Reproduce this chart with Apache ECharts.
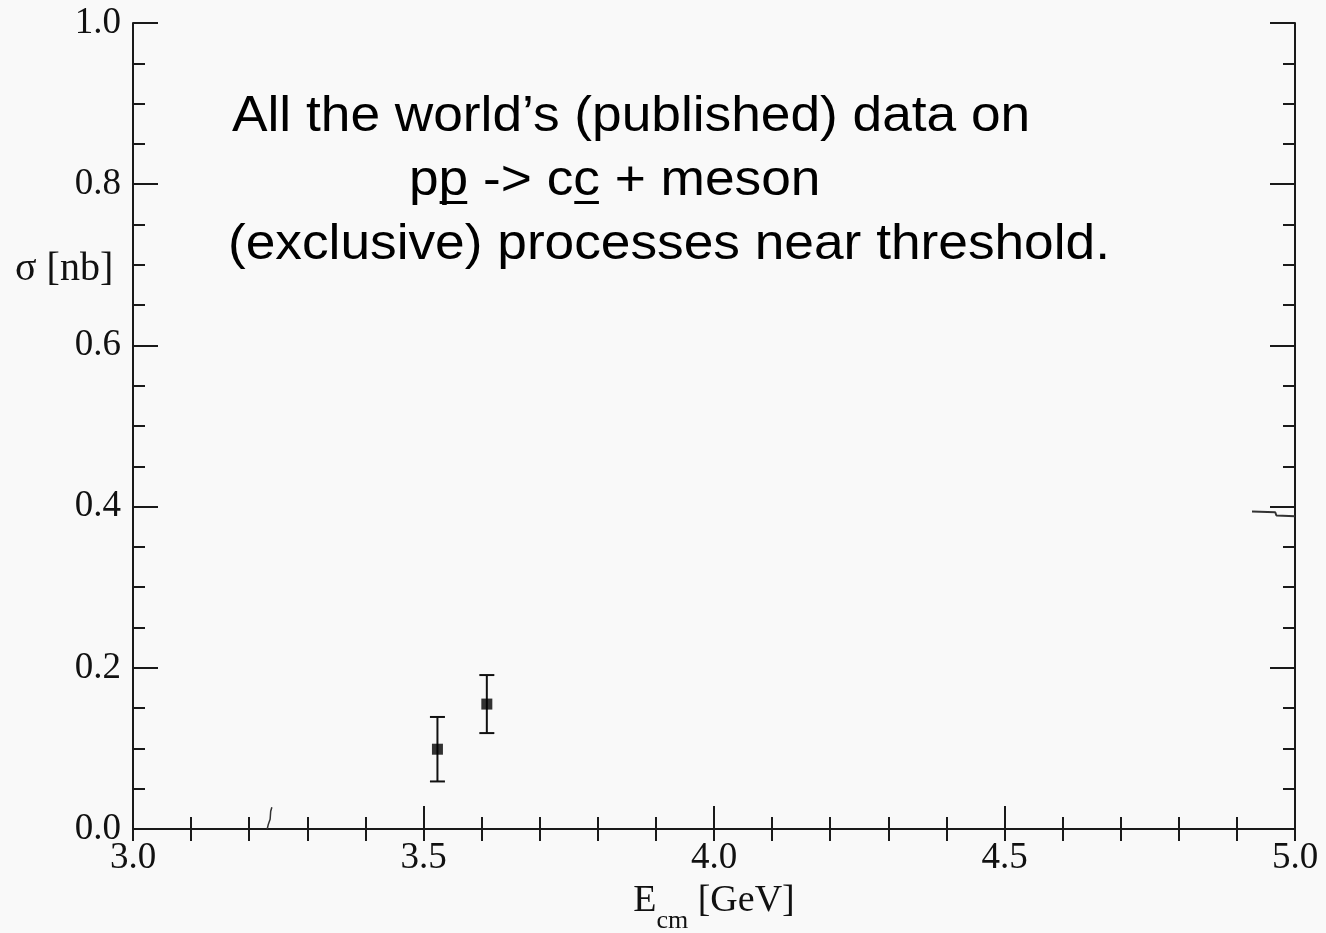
<!DOCTYPE html>
<html>
<head>
<meta charset="utf-8">
<script src="https://cdn.jsdelivr.net/npm/echarts@6/dist/echarts.min.js"></script>
<style>
  html, body { margin: 0; padding: 0; background: #f9f9f9; }
  #chart { width: 1326px; height: 933px; }
</style>
</head>
<body>
<div id="chart"></div>
<script>
// Measured cross sections (nb) versus centre-of-mass energy (GeV)
const energies = [3.524, 3.609];
const sigma = [0.099, 0.155];
const sigmaErr = [0.040, 0.036];

// Short leftover curve pieces visible on the frame
const strayRight = [[4.926, 0.394], [4.966, 0.393], [4.968, 0.389], [5.0, 0.388]];
const strayBottom = [[3.231, 0.0], [3.233, 0.006], [3.236, 0.012], [3.237, 0.022], [3.239, 0.027]];

const noteLines = [
  'All the world\u2019s (published) data on',
  'pp -> cc + meson',
  '(exclusive) processes near threshold.'
];

const AXIS_COLOR = '#1a1a1a';
const SERIF = '"Liberation Serif", "DejaVu Serif", serif';
const SANS = '"Liberation Sans", Arial, sans-serif';

const NOTE_SIZE = 50;
const NOTE_SCALE = 1.065;

// widths used to place the bar (underline) under the antiparticles
const measureCtx = document.createElement('canvas').getContext('2d');
measureCtx.font = NOTE_SIZE + 'px ' + SANS;
const wOf = s => measureCtx.measureText(s).width * NOTE_SCALE;

const chart = echarts.init(document.getElementById('chart'), null, { renderer: 'canvas' });

const tickFmt = v => v.toFixed(1);

const line2X = 409;
const barY = 201;

const option = {
  animation: false,
  backgroundColor: '#f9f9f9',
  grid: { left: 133, right: 31, top: 23, bottom: 104, containLabel: false, outerBoundsMode: 'none' },
  xAxis: [
    {
      type: 'value', min: 3, max: 5, interval: 0.5, position: 'bottom',
      axisLine: { show: true, lineStyle: { color: AXIS_COLOR, width: 2 } },
      axisTick: { show: true, inside: true, length: 23, lineStyle: { color: AXIS_COLOR, width: 2 } },
      minorTick: { show: true, splitNumber: 5, length: 12, lineStyle: { color: AXIS_COLOR, width: 2 } },
      splitLine: { show: false }, minorSplitLine: { show: false },
      axisLabel: { fontFamily: SERIF, fontSize: 37, color: '#111', margin: 11, formatter: tickFmt },
      name: '{e|E}{s|cm}{u| [GeV]}',
      nameLocation: 'middle',
      nameGap: 38,
      nameTextStyle: {
        rich: {
          e: { fontFamily: SERIF, fontSize: 38, color: '#111' },
          s: { fontFamily: SERIF, fontSize: 26, color: '#111', padding: [40, 0, 0, 0] },
          u: { fontFamily: SERIF, fontSize: 38, color: '#111' }
        }
      }
    },
    {
      type: 'value', min: 3, max: 5, interval: 0.1, position: 'top',
      axisLine: { show: true, lineStyle: { color: AXIS_COLOR, width: 2 } },
      axisTick: { show: true, inside: true, length: 12, lineStyle: { color: AXIS_COLOR, width: 2 } },
      axisLabel: { show: false },
      splitLine: { show: false }
    }
  ],
  yAxis: [
    {
      type: 'value', min: 0, max: 1, interval: 0.2, position: 'left',
      axisLine: { show: true, lineStyle: { color: AXIS_COLOR, width: 2 } },
      axisTick: { show: true, inside: true, length: 25, lineStyle: { color: AXIS_COLOR, width: 2 } },
      minorTick: { show: true, splitNumber: 4, length: 12, lineStyle: { color: AXIS_COLOR, width: 2 } },
      splitLine: { show: false }, minorSplitLine: { show: false },
      axisLabel: { fontFamily: SERIF, fontSize: 37, color: '#111', margin: 12, formatter: tickFmt }
    },
    {
      type: 'value', min: 0, max: 1, interval: 0.2, position: 'right',
      axisLine: { show: true, lineStyle: { color: AXIS_COLOR, width: 2 } },
      axisTick: { show: true, inside: true, length: 25, lineStyle: { color: AXIS_COLOR, width: 2 } },
      minorTick: { show: true, splitNumber: 4, length: 12, lineStyle: { color: AXIS_COLOR, width: 2 } },
      splitLine: { show: false }, minorSplitLine: { show: false },
      axisLabel: { show: false }
    }
  ],
  graphic: [
    {
      type: 'text', x: 15, y: 269, z: 10,
      style: { text: '\u03c3 [nb]', fontFamily: SERIF, fontSize: 40, fill: '#111', verticalAlign: 'middle' }
    },
    {
      type: 'text', x: 232, y: 117, scaleX: NOTE_SCALE, z: 10,
      style: { text: noteLines[0], fontFamily: SANS, fontSize: NOTE_SIZE, fill: '#000', verticalAlign: 'middle' }
    },
    {
      type: 'text', x: line2X, y: 181, scaleX: NOTE_SCALE, z: 10,
      style: { text: noteLines[1], fontFamily: SANS, fontSize: NOTE_SIZE, fill: '#000', verticalAlign: 'middle' }
    },
    {
      type: 'text', x: 228, y: 245, scaleX: NOTE_SCALE, z: 10,
      style: { text: noteLines[2], fontFamily: SANS, fontSize: NOTE_SIZE, fill: '#000', verticalAlign: 'middle' }
    },
    {
      type: 'rect', z: 10,
      shape: { x: line2X + wOf('p') + 1, y: barY, width: wOf('p') - 2, height: 3 },
      style: { fill: '#000' }
    },
    {
      type: 'rect', z: 10,
      shape: { x: line2X + wOf('pp -> c') + 1, y: barY, width: wOf('c') - 2, height: 3 },
      style: { fill: '#000' }
    }
  ],
  series: [
    {
      name: 'error bars',
      type: 'custom',
      xAxisIndex: 0, yAxisIndex: 0,
      data: energies.map((x, i) => [x, sigma[i], sigmaErr[i]]),
      renderItem: function (params, api) {
        const x = api.value(0), y = api.value(1), e = api.value(2);
        const top = api.coord([x, y + e]);
        const bot = api.coord([x, y - e]);
        const hw = 7.5;
        const st = { stroke: '#111', lineWidth: 2 };
        return {
          type: 'group',
          children: [
            { type: 'line', shape: { x1: top[0], y1: top[1], x2: bot[0], y2: bot[1] }, style: st },
            { type: 'line', shape: { x1: top[0] - hw, y1: top[1], x2: top[0] + hw, y2: top[1] }, style: st },
            { type: 'line', shape: { x1: bot[0] - hw, y1: bot[1], x2: bot[0] + hw, y2: bot[1] }, style: st }
          ]
        };
      },
      z: 3
    },
    {
      name: 'sigma',
      type: 'scatter',
      xAxisIndex: 0, yAxisIndex: 0,
      data: energies.map((x, i) => [x, sigma[i]]),
      symbol: 'rect', symbolSize: 11,
      itemStyle: { color: '#000' },
      z: 4
    },
    {
      type: 'line', xAxisIndex: 0, yAxisIndex: 0,
      data: strayRight, showSymbol: false, symbol: 'none',
      lineStyle: { color: '#333', width: 2 }, z: 2
    },
    {
      type: 'line', xAxisIndex: 0, yAxisIndex: 0,
      data: strayBottom, showSymbol: false, symbol: 'none',
      lineStyle: { color: '#333', width: 1.5 }, z: 2
    }
  ]
};

chart.setOption(option);
</script>
</body>
</html>
